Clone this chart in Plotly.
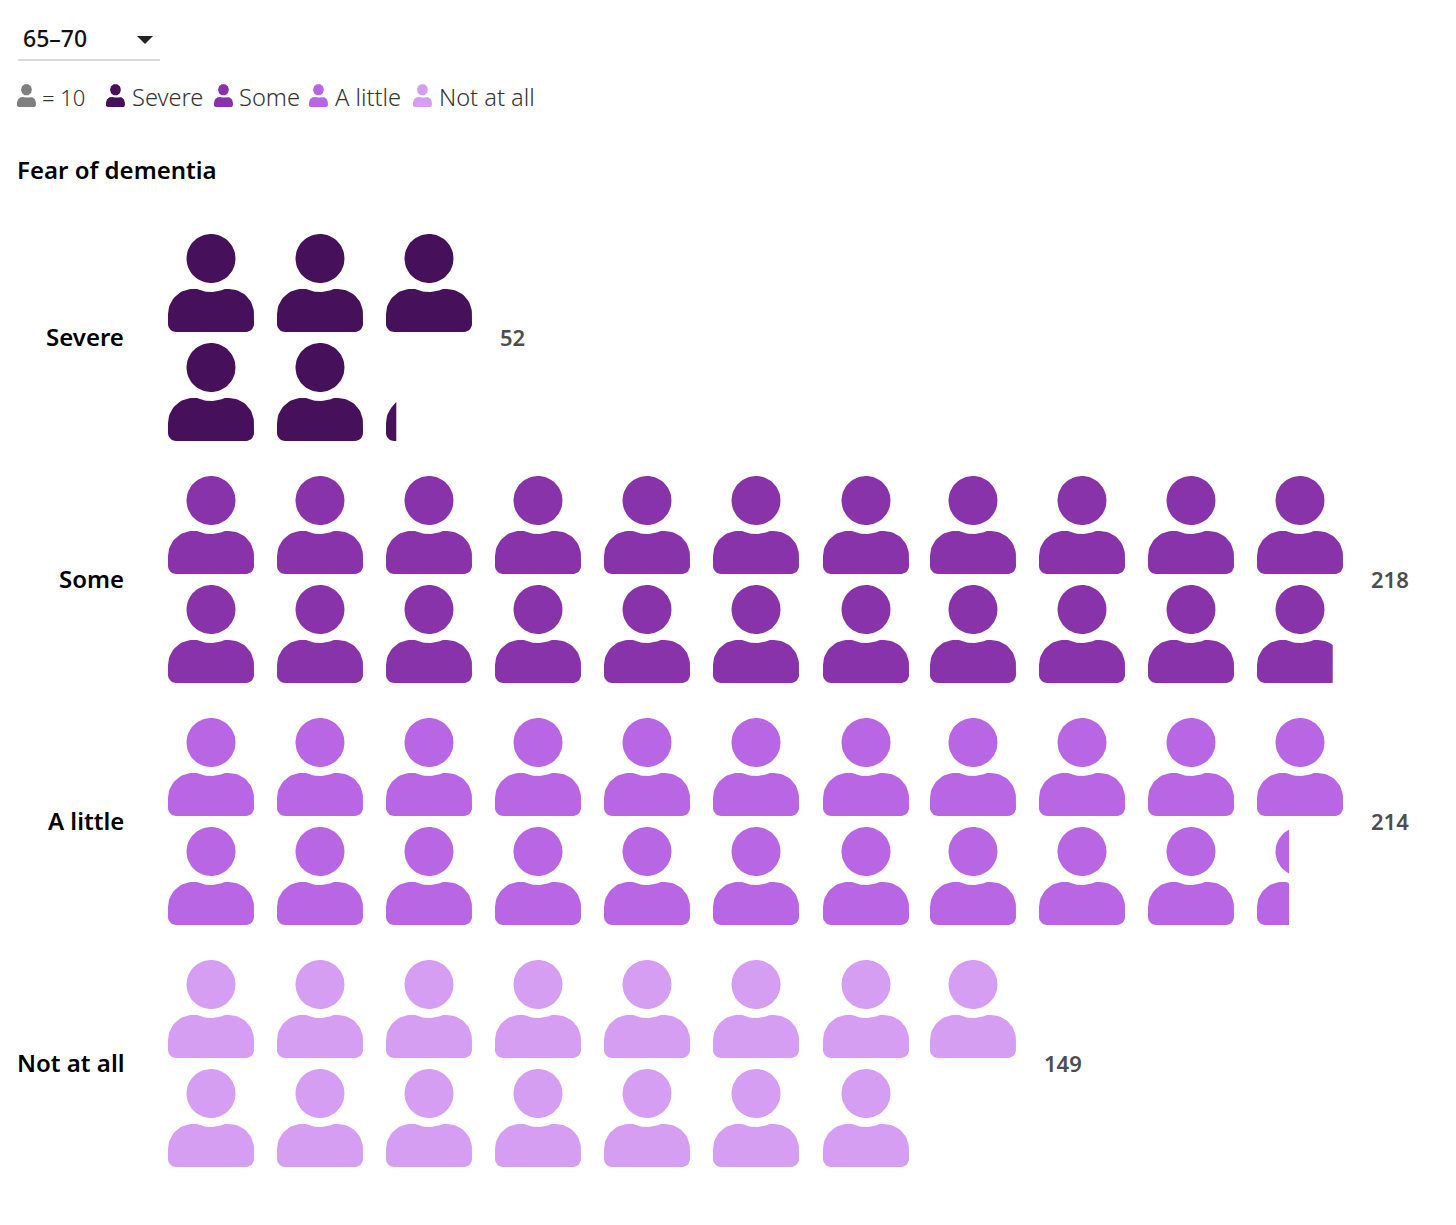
import math
import numpy as np
import plotly.graph_objects as go

# data
categories = ['Severe', 'Some', 'A little', 'Not at all']
values = [52, 218, 214, 149]
colors = ['#46105a', '#8833a9', '#b966e4', '#d59ef3']
unit = 10
dropdown_label = '65–70'
chart_title = 'Fear of dementia'

# layout, in page pixels
PITCH = 109
ICON_W = 86
COL_LEFT = [168, 277, 386, 495, 604, 713, 823, 930, 1039, 1148, 1257]
ROW_TOP = [234, 476, 718, 960]
FONT = 'Noto Sans'


def _arc(cx, cy, r, a0, a1, n=14):
    t = np.radians(np.linspace(a0, a1, n))
    return cx + r * np.cos(t), cy + r * np.sin(t)


def _icon_outline():
    """Unit person icon: 86 wide, 98 tall, origin top-left. Returns head and body rings."""
    hx, hy = _arc(43, 24.5, 24.5, 0, 360, 60)
    # left half of the shoulders, then mirrored
    cx, cy = _arc(8, 35, 8, 90, 180, 8)
    sx, sy = _arc(25, 25, 25, 180, 270, 18)
    # neck dip runs concentric with the head
    nx = np.linspace(29, 43, 10)
    ny = 24.5 + np.sqrt(33.5 ** 2 - (43 - nx) ** 2) - 55
    lx = np.concatenate([cx, sx, nx])
    ly = np.concatenate([cy, sy, ny]) + 55
    body_x = np.concatenate([lx, 86 - lx[::-1]])
    body_y = np.concatenate([ly, ly[::-1]])
    return (hx, hy), (body_x, body_y)


HEAD, BODY = _icon_outline()


def icon_xy(left, top, sx=1.0, sy=1.0, clip=None):
    xs, ys = [], []
    for px, py in (HEAD, BODY):
        x = px if clip is None else np.minimum(px, clip)
        xs += list(left + x * sx) + [left + x[0] * sx, None]
        ys += list(top + py * sy) + [top + py[0] * sy, None]
    return xs, ys


fig = go.Figure()


def add_icons(xs, ys, color):
    fig.add_trace(go.Scatter(x=xs, y=ys, mode='lines', fill='toself', fillcolor=color,
                             line=dict(width=0, color=color), hoverinfo='skip'))


def add_text(x, y, text, size, color='#000000', weight=400, anchor='left'):
    fig.add_annotation(x=x, y=y, text=text, showarrow=False, xanchor=anchor, yanchor='middle',
                       borderpad=0, font=dict(family=FONT, size=size, color=color, weight=weight))


# isotype rows: icons fill top/bottom alternately, last one is cut by the remainder
for cat, val, color, top in zip(categories, values, colors, ROW_TOP):
    n = math.ceil(val / unit)
    xs, ys = [], []
    for i in range(n):
        col, line = i // 2, i % 2
        clip = None
        if i == n - 1 and val % unit:
            clip = PITCH * (val % unit) / unit - (PITCH - ICON_W) / 2
        a, b = icon_xy(COL_LEFT[col], top + line * PITCH, clip=clip)
        xs += a
        ys += b
    add_icons(xs, ys, color)
    add_text(125, top + 102, cat, 24, weight=600, anchor='right')
    last_col = (n - 1) // 2
    add_text(COL_LEFT[last_col] + ICON_W + 26.5, top + 103, str(val), 22, color='#4d4d4d', weight=600)

# dropdown
add_text(22, 38, dropdown_label, 23, color='#111111', weight=500)
fig.add_shape(type='path', path='M 137 36 L 153 36 L 145 44 Z', fillcolor='#222222', line_width=0)
fig.add_shape(type='line', x0=18, x1=160, y0=60, y1=60, line=dict(color='#cccccc', width=1.5))

# legend
LEG_SX, LEG_SY = 0.22, 0.235
xs, ys = icon_xy(17, 84, LEG_SX, LEG_SY)
add_icons(xs, ys, '#7f7f7f')
add_text(41, 97, f'= {unit}', 22, color='#333333', weight=300)
leg_icon_x = [106, 214, 309, 413]
leg_text_x = [131, 238, 334, 438]
for cat, color, ix, tx in zip(categories, colors, leg_icon_x, leg_text_x):
    xs, ys = icon_xy(ix, 84, LEG_SX, LEG_SY)
    add_icons(xs, ys, color)
    add_text(tx, 97, cat, 23.6, color='#333333', weight=300)

add_text(16, 169, chart_title, 24, weight=600)

# the page body keeps its default 8px margin, so the plot area is offset by that
fig.update_layout(
    width=1440, height=1209, margin=dict(l=0, r=0, t=0, b=0),
    paper_bgcolor='white', plot_bgcolor='white', showlegend=False,
    xaxis=dict(range=[8, 1448], visible=False, fixedrange=True),
    yaxis=dict(range=[1217, 8], visible=False, fixedrange=True),
)

fig.write_html("out.html")
